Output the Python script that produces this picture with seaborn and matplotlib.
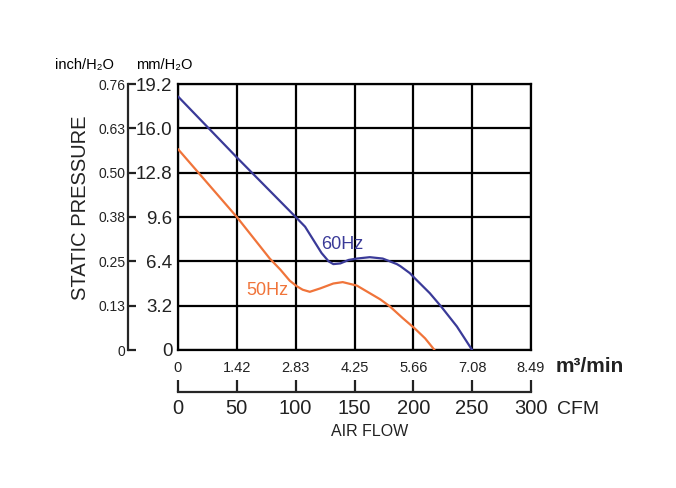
import pandas as pd
import seaborn as sns
import matplotlib.pyplot as plt

# curve data (CFM, mmH2O)
cfm_60 = [0, 50, 100, 108, 115, 122, 128, 132, 138, 145, 152, 163, 174, 186, 189, 197, 201, 214, 224, 237, 250]
p_60 = [18.3, 13.9, 9.6, 8.9, 7.95, 7.0, 6.4, 6.2, 6.25, 6.5, 6.6, 6.7, 6.6, 6.2, 6.05, 5.55, 5.2, 4.1, 3.1, 1.7, 0]

cfm_50 = [0, 50, 78, 87, 95, 101, 106, 112, 121, 132, 140, 152, 163, 172, 180, 191, 201, 210, 218]
p_50 = [14.5, 9.6, 6.6, 5.8, 5.0, 4.6, 4.35, 4.2, 4.45, 4.8, 4.9, 4.65, 4.1, 3.65, 3.15, 2.3, 1.57, 0.84, 0]

cfm_ticks = [0, 50, 100, 150, 200, 250, 300]
m3_labels = ['0', '1.42', '2.83', '4.25', '5.66', '7.08', '8.49']
mm_ticks = [0, 3.2, 6.4, 9.6, 12.8, 16.0, 19.2]
mm_labels = ['0', '3.2', '6.4', '9.6', '12.8', '16.0', '19.2']
inch_labels = ['0', '0.13', '0.25', '0.38', '0.50', '0.63', '0.76']

blue = '#3a3a98'
orange = '#f0743a'

sns.set_style('white')
plt.rcParams['font.family'] = ['Liberation Sans', 'DejaVu Sans']
fam = ['Liberation Sans', 'DejaVu Sans']

df = pd.concat([
    pd.DataFrame({'cfm': cfm_60, 'p': p_60, 'freq': '60Hz'}),
    pd.DataFrame({'cfm': cfm_50, 'p': p_50, 'freq': '50Hz'}),
])

fig = plt.figure(figsize=(6.76, 4.88), dpi=100)
ax = fig.add_axes([178 / 676, 138 / 488, 353 / 676, 266 / 488])

sns.lineplot(data=df, x='cfm', y='p', hue='freq', palette={'60Hz': blue, '50Hz': orange},
             linewidth=1.6, legend=False, sort=False, ax=ax, zorder=3)

ax.set_xlim(0, 300)
ax.set_ylim(0, 19.2)
ax.set_xticks(cfm_ticks)
ax.set_xticklabels(m3_labels, fontsize=10.5, family=fam)
ax.set_yticks(mm_ticks)
ax.set_yticklabels(mm_labels, fontsize=13.5, family=fam)
ax.tick_params(axis='x', length=0, pad=8, colors='#222222')
ax.tick_params(axis='y', length=0, pad=4, colors='#222222')
ax.grid(True, color='black', linewidth=1.6)
for s in ax.spines.values():
    s.set_color('black')
    s.set_linewidth(1.6)
ax.set_xlabel('')
ax.set_ylabel('')

# inch/H2O axis on the far left
sec_y = ax.secondary_yaxis(-50 / 353)
sec_y.set_yticks(mm_ticks)
sec_y.set_yticklabels(inch_labels, fontsize=10, family=fam)
sec_y.tick_params(direction='in', length=6, width=1.6, pad=2, colors='#222222')
sec_y.spines['left'].set_linewidth(1.6)

# CFM axis below
sec_x = ax.secondary_xaxis(-42 / 266)
sec_x.set_xticks(cfm_ticks)
sec_x.set_xticklabels([str(t) for t in cfm_ticks], fontsize=14.5, family=fam)
sec_x.tick_params(direction='in', length=9, width=1.6, pad=5, colors='#222222')
sec_x.spines['bottom'].set_linewidth(1.6)

ax.text(140, 7.65, '60Hz', color=blue, fontsize=13, family=fam, ha='center', va='center')
ax.text(76, 4.3, '50Hz', color=orange, fontsize=13, family=fam, ha='center', va='center')

fig.text(556 / 676, 1 - 366 / 488, 'm³/min', fontsize=15, fontweight='bold', family=fam,
         ha='left', va='center', color='#222222')
fig.text(557 / 676, 1 - 409 / 488, 'CFM', fontsize=14, family=fam, ha='left', va='center',
         color='#222222')
fig.text(370 / 676, 1 - 432 / 488, 'AIR FLOW', fontsize=11.5, family=fam, ha='center',
         va='center', color='#222222')
fig.text(80 / 676, 1 - 208 / 488, 'STATIC PRESSURE', fontsize=14.5, family=fam, rotation=90,
         ha='center', va='center', color='#222222')
fig.text(84 / 676, 1 - 65 / 488, 'inch/H₂O', fontsize=10.5, family=fam, ha='center',
         va='center', color='black')
fig.text(164 / 676, 1 - 65 / 488, 'mm/H₂O', fontsize=10.5, family=fam, ha='center',
         va='center', color='black')

fig.savefig('out.png', dpi=100)
